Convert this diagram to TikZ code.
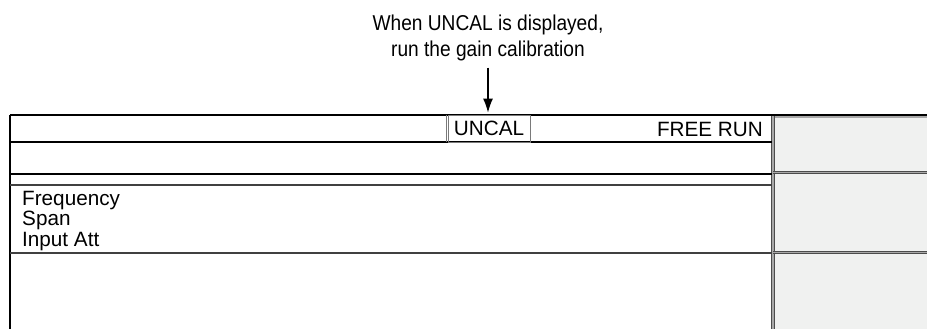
\documentclass[tikz,border=0pt]{standalone}
\usepackage{fontspec}
\setmainfont{Liberation Sans}
\newfontfamily\narrowsans[FakeStretch=0.89]{Liberation Sans}
\usetikzlibrary{arrows.meta}
\definecolor{keyfill}{HTML}{F0F1F0}
\definecolor{keyline}{HTML}{4C4C4C}
\definecolor{keycore}{HTML}{A8A8A8}
\definecolor{boxgray}{HTML}{7A7A7A}
\tikzstyle{frameline} = [line width=1.3pt, black]
\tikzstyle{softline} = [line width=1.2pt, black!75]
\tikzstyle{keyedge} = [draw=keyline, line width=0.9pt, double=keycore, double distance=1.6pt]
\tikzstyle{readout} = [inner sep=0pt, font=\fontsize{20.7}{20.3}\selectfont]
\tikzstyle{arrow} = [line width=1.3pt, -{Latex[length=14pt,width=10pt]}]

\begin{document}
\begin{tikzpicture}[x=1pt, y=-1pt]
\useasboundingbox (0,0) rectangle (927,329);
% soft key panels
\fill[keyfill] (775,117) rectangle (927,171);
\fill[keyfill] (775,174) rectangle (927,251);
\fill[keyfill] (775,254) rectangle (927,329);
\draw[keyedge] (773,115) -- (773,329);
\draw[keyedge] (773,172.5) -- (927,172.5);
\draw[keyedge] (773,252.5) -- (927,252.5);
\draw[line width=1.4pt, keycore] (775,117) -- (927,117);
% screen rows
\draw[frameline] (10,115) -- (927,115);
\draw[frameline] (10,115) -- (10,329);
\draw[frameline] (10,142) -- (772,142);
\draw[frameline] (10,174) -- (772,174);
\draw[softline] (10,185) -- (772,185);
\draw[softline] (10,253) -- (772,253);
% texts
\node (uncal) [readout, draw=boxgray, line width=0.8pt, minimum width=82pt, minimum height=27pt] at (489,128.5) {UNCAL};
\draw[draw=boxgray, line width=0.8pt] ([xshift=-1.7pt]uncal.north west) -- ([xshift=-1.7pt]uncal.south west);
\node (freerun) [readout, anchor=base east] at (763,136.5) {FREE RUN};
\node (params) [readout, anchor=base west, align=left] at (22,246) {Frequency\\Span\\Input Att};
\node (note) [anchor=base, align=center, inner sep=0pt, font=\narrowsans\fontsize{21.5}{26}\selectfont] at (488,57) {When UNCAL is displayed,\\run the gain calibration};
\draw[arrow, shorten <=6pt, shorten >=2pt] (note.south) -- (note.south |- uncal.north);
\end{tikzpicture}
\end{document}
